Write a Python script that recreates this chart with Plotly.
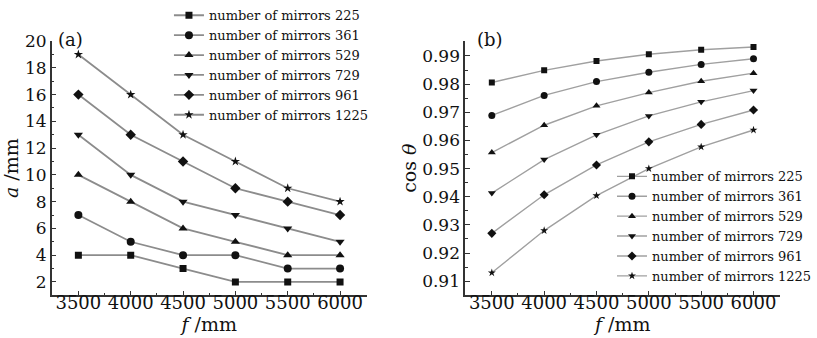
import plotly.graph_objects as go

f_mm = [3500, 4000, 4500, 5000, 5500, 6000]
series_names = ["number of mirrors 225", "number of mirrors 361", "number of mirrors 529",
                "number of mirrors 729", "number of mirrors 961", "number of mirrors 1225"]
symbols = ["square", "circle", "triangle-up", "triangle-down", "diamond", "star"]

a_225 = [4, 4, 3, 2, 2, 2]
a_361 = [7, 5, 4, 4, 3, 3]
a_529 = [10, 8, 6, 5, 4, 4]
a_729 = [13, 10, 8, 7, 6, 5]
a_961 = [16, 13, 11, 9, 8, 7]
a_1225 = [19, 16, 13, 11, 9, 8]

cos_225 = [0.9806, 0.9849, 0.9882, 0.9906, 0.9922, 0.9932]
cos_361 = [0.9689, 0.9760, 0.9809, 0.9842, 0.9870, 0.9890]
cos_529 = [0.9557, 0.9654, 0.9723, 0.9770, 0.9810, 0.9839]
cos_729 = [0.9413, 0.9532, 0.9620, 0.9687, 0.9737, 0.9777]
cos_961 = [0.9270, 0.9407, 0.9513, 0.9595, 0.9657, 0.9708]
cos_1225 = [0.9130, 0.9280, 0.9404, 0.9500, 0.9577, 0.9637]

a_series = [a_225, a_361, a_529, a_729, a_961, a_1225]
cos_series = [cos_225, cos_361, cos_529, cos_729, cos_961, cos_1225]

W, H = 817, 338
FONT = "DejaVu Serif"
MARK_C = "#111111"
msize = {"square": 7, "circle": 8, "triangle-up": 8, "triangle-down": 8, "diamond": 8, "star": 7}

fig = go.Figure()
for name, sym, ys in zip(series_names, symbols, a_series):
    fig.add_trace(go.Scatter(x=f_mm, y=ys, name=name, mode="lines+markers",
                             line=dict(color="#8c8c8c", width=1.8),
                             marker=dict(symbol=sym, size=msize[sym], color=MARK_C),
                             xaxis="x", yaxis="y", legend="legend"))
for name, sym, ys in zip(series_names, symbols, cos_series):
    fig.add_trace(go.Scatter(x=f_mm, y=ys, name=name, mode="lines+markers",
                             line=dict(color="#a0a0a0", width=1.4),
                             marker=dict(symbol=sym, size=msize[sym] - 1, color=MARK_C),
                             xaxis="x2", yaxis="y2", legend="legend2"))

ydom = [(H - 294) / H, (H - 32) / H]
line_common = dict(showline=True, linecolor="#333", linewidth=1.5, ticks="inside", ticklen=5,
                   tickcolor="#333", tickwidth=1.2, showgrid=False, zeroline=False)
minor_common = dict(ticks="inside", ticklen=3, tickcolor="#333", tickwidth=1, showgrid=False)
xfont = dict(family=FONT, size=18, color="#111")
yfont = dict(family=FONT, size=17, color="#111")
tfont = dict(family=FONT, size=19, color="#111")

fig.update_layout(
    width=W, height=H, margin=dict(l=0, r=0, t=0, b=0),
    paper_bgcolor="white", plot_bgcolor="white",
    font=dict(family=FONT, color="#111"),
    xaxis=dict(domain=[52 / W, 369 / W], range=[3245, 6255], tickvals=f_mm, anchor="y",
               minor=dict(dtick=250, **minor_common), tickfont=xfont, ticklabelstandoff=-10,
               title=dict(text="<i>f</i> /mm", font=tfont, standoff=4),
               **line_common),
    yaxis=dict(domain=ydom, range=[1, 20], dtick=2, tick0=0, anchor="x",
               minor=dict(dtick=1, **minor_common), tickfont=yfont,
               title=dict(text="<i>a</i> /mm", font=tfont, standoff=2),
               **line_common),
    xaxis2=dict(domain=[468 / W, 785 / W], range=[3245, 6255], tickvals=f_mm, anchor="y2",
                minor=dict(dtick=250, **minor_common), tickfont=xfont, ticklabelstandoff=-10,
                title=dict(text="<i>f</i> /mm", font=tfont, standoff=4),
                **line_common),
    yaxis2=dict(domain=ydom, range=[0.905, 0.9953], dtick=0.01, tick0=0.91, tickformat=".2f",
                anchor="x2", minor=dict(dtick=0.005, **minor_common), tickfont=yfont,
                title=dict(text="cos <i>θ</i>", font=tfont, standoff=0),
                **line_common),
    legend=dict(x=170 / W, y=1 + 10 / H, xanchor="left", yanchor="top",
                bgcolor="rgba(0,0,0,0)", font=dict(family=FONT, size=13, color="#111"),
                tracegroupgap=0, itemwidth=30),
    legend2=dict(x=616 / W, y=1 - 156 / H, xanchor="left", yanchor="top",
                 bgcolor="rgba(0,0,0,0)", font=dict(family=FONT, size=13, color="#111"),
                 tracegroupgap=0, itemwidth=30),
    annotations=[
        dict(text="(a)", x=56 / W, y=1 - 30 / H, xref="paper", yref="paper", xanchor="left",
             yanchor="middle", showarrow=False, font=dict(family=FONT, size=18, color="#111")),
        dict(text="(b)", x=478 / W, y=1 - 30 / H, xref="paper", yref="paper", xanchor="left",
             yanchor="middle", showarrow=False, font=dict(family=FONT, size=18, color="#111")),
    ],
)

fig.write_html("out.html")
